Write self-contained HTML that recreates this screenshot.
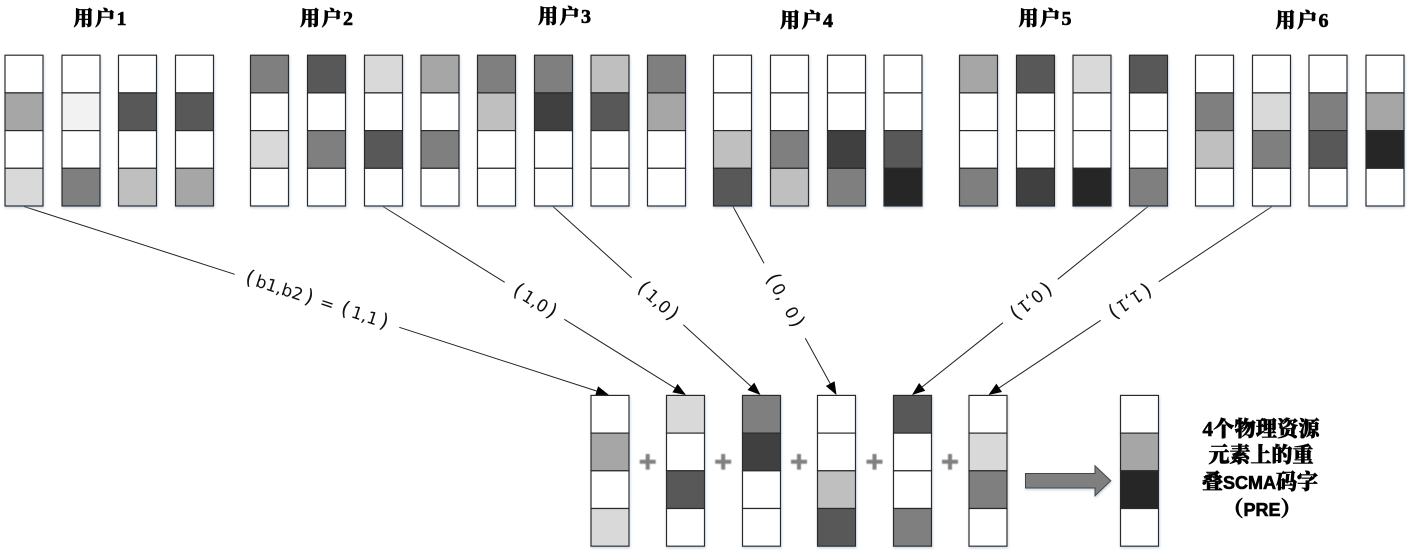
<!DOCTYPE html>
<html lang="zh">
<head>
<meta charset="utf-8">
<title>SCMA</title>
<style>
html,body{margin:0;padding:0;background:#fff;width:1409px;height:555px;overflow:hidden}
svg{display:block}
.c rect{width:38px;height:37.7px;stroke:#2b2b2b;stroke-width:1.2px}
.t{font-family:"Liberation Serif","Noto Serif CJK SC",serif;font-weight:900;font-size:20px;fill:#000;stroke:#000;stroke-width:.6px;text-anchor:middle}
.r{font-size:21px}
.e{font-family:"Liberation Sans",sans-serif;font-size:18px}
.l{font-family:"DejaVu Sans",sans-serif;font-size:17px;fill:#111;text-anchor:middle}
.q{font-size:20px}
.k line{stroke:#222;stroke-width:1}
.p path{fill:#000}
</style>
</head>
<body>
<svg width="1409" height="555" viewBox="0 0 1409 555" xmlns="http://www.w3.org/2000/svg">
<defs>
<filter id="s" x="-20%" y="-20%" width="140%" height="140%"><feDropShadow dx="0.6" dy="1.5" stdDeviation="1.2" flood-color="#9fb8d8" flood-opacity=".55"/></filter>
<filter id="b" x="-30%" y="-30%" width="160%" height="160%"><feGaussianBlur stdDeviation=".5"/></filter>
</defs>

<text class="t" x="100" y="25" textLength="53">用户1</text>
<text class="t" x="326.5" y="25" textLength="53">用户2</text>
<text class="t" x="564.5" y="23" textLength="53">用户3</text>
<text class="t" x="806.5" y="27" textLength="53">用户4</text>
<text class="t" x="1045" y="25" textLength="53">用户5</text>
<text class="t" x="1302" y="27" textLength="53">用户6</text>

<g class="k">
<line x1="24" y1="206.5" x2="234.7" y2="274.3"/><line x1="399.3" y1="327.3" x2="596.6" y2="391"/>
<line x1="383" y1="206.5" x2="504.7" y2="282.3"/><line x1="564.3" y1="319.3" x2="675" y2="388.1"/>
<line x1="553" y1="206.5" x2="631.7" y2="277.7"/><line x1="683.3" y1="324.7" x2="750.9" y2="386.3"/>
<line x1="733" y1="206.5" x2="764" y2="263.3"/><line x1="805.3" y1="338.3" x2="830.2" y2="383.6"/>
<line x1="1148" y1="206.5" x2="1057.7" y2="279.3"/><line x1="1003" y1="322.7" x2="922.2" y2="386.9"/>
<line x1="1272" y1="206.5" x2="1158.7" y2="281.7"/><line x1="1100.7" y1="320.3" x2="999.2" y2="387.8"/>
</g>
<g class="p">
<path d="M609,395 L595.1,395.8 L598.1,386.2 Z"/>
<path d="M686,395 L672.4,392.4 L677.6,383.9 Z"/>
<path d="M760.5,395 L747.5,390 L754.3,382.6 Z"/>
<path d="M836.5,395 L825.8,386 L834.6,381.2 Z"/>
<path d="M912,395 L925.3,390.8 L919.1,383 Z"/>
<path d="M988.4,395 L1002,392 L996.4,383.6 Z"/>
</g>

<g class="c">
<g filter="url(#s)" transform="translate(5,55.2)"><rect y="0" fill="#fff"/><rect y="37.7" fill="#a6a6a6"/><rect y="75.4" fill="#fff"/><rect y="113.1" fill="#d9d9d9"/></g>
<g filter="url(#s)" transform="translate(62,55.2)"><rect y="0" fill="#fff"/><rect y="37.7" fill="#f2f2f2"/><rect y="75.4" fill="#fff"/><rect y="113.1" fill="#7f7f7f"/></g>
<g filter="url(#s)" transform="translate(118.5,55.2)"><rect y="0" fill="#fff"/><rect y="37.7" fill="#595959"/><rect y="75.4" fill="#fff"/><rect y="113.1" fill="#bfbfbf"/></g>
<g filter="url(#s)" transform="translate(175.5,55.2)"><rect y="0" fill="#fff"/><rect y="37.7" fill="#595959"/><rect y="75.4" fill="#fff"/><rect y="113.1" fill="#a6a6a6"/></g>

<g filter="url(#s)" transform="translate(250.5,55.2)"><rect y="0" fill="#7f7f7f"/><rect y="37.7" fill="#fff"/><rect y="75.4" fill="#d9d9d9"/><rect y="113.1" fill="#fff"/></g>
<g filter="url(#s)" transform="translate(307.5,55.2)"><rect y="0" fill="#595959"/><rect y="37.7" fill="#fff"/><rect y="75.4" fill="#7f7f7f"/><rect y="113.1" fill="#fff"/></g>
<g filter="url(#s)" transform="translate(364.5,55.2)"><rect y="0" fill="#d9d9d9"/><rect y="37.7" fill="#fff"/><rect y="75.4" fill="#595959"/><rect y="113.1" fill="#fff"/></g>
<g filter="url(#s)" transform="translate(421,55.2)"><rect y="0" fill="#a6a6a6"/><rect y="37.7" fill="#fff"/><rect y="75.4" fill="#7f7f7f"/><rect y="113.1" fill="#fff"/></g>

<g filter="url(#s)" transform="translate(477.5,55.2)"><rect y="0" fill="#7f7f7f"/><rect y="37.7" fill="#bfbfbf"/><rect y="75.4" fill="#fff"/><rect y="113.1" fill="#fff"/></g>
<g filter="url(#s)" transform="translate(534.5,55.2)"><rect y="0" fill="#7f7f7f"/><rect y="37.7" fill="#404040"/><rect y="75.4" fill="#fff"/><rect y="113.1" fill="#fff"/></g>
<g filter="url(#s)" transform="translate(591,55.2)"><rect y="0" fill="#bfbfbf"/><rect y="37.7" fill="#595959"/><rect y="75.4" fill="#fff"/><rect y="113.1" fill="#fff"/></g>
<g filter="url(#s)" transform="translate(647.5,55.2)"><rect y="0" fill="#7f7f7f"/><rect y="37.7" fill="#a6a6a6"/><rect y="75.4" fill="#fff"/><rect y="113.1" fill="#fff"/></g>

<g filter="url(#s)" transform="translate(713.5,55.2)"><rect y="0" fill="#fff"/><rect y="37.7" fill="#fff"/><rect y="75.4" fill="#bfbfbf"/><rect y="113.1" fill="#595959"/></g>
<g filter="url(#s)" transform="translate(770.5,55.2)"><rect y="0" fill="#fff"/><rect y="37.7" fill="#fff"/><rect y="75.4" fill="#7f7f7f"/><rect y="113.1" fill="#bfbfbf"/></g>
<g filter="url(#s)" transform="translate(827.5,55.2)"><rect y="0" fill="#fff"/><rect y="37.7" fill="#fff"/><rect y="75.4" fill="#404040"/><rect y="113.1" fill="#7f7f7f"/></g>
<g filter="url(#s)" transform="translate(884,55.2)"><rect y="0" fill="#fff"/><rect y="37.7" fill="#fff"/><rect y="75.4" fill="#595959"/><rect y="113.1" fill="#262626"/></g>

<g filter="url(#s)" transform="translate(959.5,55.2)"><rect y="0" fill="#a6a6a6"/><rect y="37.7" fill="#fff"/><rect y="75.4" fill="#fff"/><rect y="113.1" fill="#7f7f7f"/></g>
<g filter="url(#s)" transform="translate(1016.5,55.2)"><rect y="0" fill="#595959"/><rect y="37.7" fill="#fff"/><rect y="75.4" fill="#fff"/><rect y="113.1" fill="#404040"/></g>
<g filter="url(#s)" transform="translate(1073,55.2)"><rect y="0" fill="#d9d9d9"/><rect y="37.7" fill="#fff"/><rect y="75.4" fill="#fff"/><rect y="113.1" fill="#262626"/></g>
<g filter="url(#s)" transform="translate(1129.5,55.2)"><rect y="0" fill="#595959"/><rect y="37.7" fill="#fff"/><rect y="75.4" fill="#fff"/><rect y="113.1" fill="#7f7f7f"/></g>

<g filter="url(#s)" transform="translate(1195.5,55.2)"><rect y="0" fill="#fff"/><rect y="37.7" fill="#7f7f7f"/><rect y="75.4" fill="#bfbfbf"/><rect y="113.1" fill="#fff"/></g>
<g filter="url(#s)" transform="translate(1252.5,55.2)"><rect y="0" fill="#fff"/><rect y="37.7" fill="#d9d9d9"/><rect y="75.4" fill="#7f7f7f"/><rect y="113.1" fill="#fff"/></g>
<g filter="url(#s)" transform="translate(1309,55.2)"><rect y="0" fill="#fff"/><rect y="37.7" fill="#7f7f7f"/><rect y="75.4" fill="#595959"/><rect y="113.1" fill="#fff"/></g>
<g filter="url(#s)" transform="translate(1366,55.2)"><rect y="0" fill="#fff"/><rect y="37.7" fill="#a6a6a6"/><rect y="75.4" fill="#262626"/><rect y="113.1" fill="#fff"/></g>

<g filter="url(#s)" transform="translate(591,395.4)"><rect y="0" fill="#fff"/><rect y="37.7" fill="#a6a6a6"/><rect y="75.4" fill="#fff"/><rect y="113.1" fill="#d9d9d9"/></g>
<g filter="url(#s)" transform="translate(666.5,395.4)"><rect y="0" fill="#d9d9d9"/><rect y="37.7" fill="#fff"/><rect y="75.4" fill="#595959"/><rect y="113.1" fill="#fff"/></g>
<g filter="url(#s)" transform="translate(742.5,395.4)"><rect y="0" fill="#7f7f7f"/><rect y="37.7" fill="#404040"/><rect y="75.4" fill="#fff"/><rect y="113.1" fill="#fff"/></g>
<g filter="url(#s)" transform="translate(817.5,395.4)"><rect y="0" fill="#fff"/><rect y="37.7" fill="#fff"/><rect y="75.4" fill="#bfbfbf"/><rect y="113.1" fill="#595959"/></g>
<g filter="url(#s)" transform="translate(893.5,395.4)"><rect y="0" fill="#595959"/><rect y="37.7" fill="#fff"/><rect y="75.4" fill="#fff"/><rect y="113.1" fill="#7f7f7f"/></g>
<g filter="url(#s)" transform="translate(969,395.4)"><rect y="0" fill="#fff"/><rect y="37.7" fill="#d9d9d9"/><rect y="75.4" fill="#7f7f7f"/><rect y="113.1" fill="#fff"/></g>

<g filter="url(#s)" transform="translate(1120.5,395.4)"><rect y="0" fill="#fff"/><rect y="37.7" fill="#a6a6a6"/><rect y="75.4" fill="#262626"/><rect y="113.1" fill="#fff"/></g>
</g>

<text class="l" transform="translate(317,300) rotate(18)" y="6"><tspan class="q">(</tspan><tspan dx="3">b1,b2</tspan><tspan class="q" dx="3">)</tspan><tspan dx="8">=</tspan><tspan class="q" dx="8">(</tspan><tspan dx="3">1,1</tspan><tspan class="q" dx="3">)</tspan></text>
<text class="l" transform="translate(535,301) rotate(32)" y="6"><tspan class="q">(</tspan><tspan dx="3">1,0</tspan><tspan class="q" dx="2">)</tspan></text>
<text class="l" transform="translate(658,301) rotate(42)" y="6"><tspan class="q">(</tspan><tspan dx="3">1,0</tspan><tspan class="q" dx="2">)</tspan></text>
<text class="l" transform="translate(785,300.5) rotate(61)" y="6"><tspan class="q">(</tspan><tspan dx="3">0,</tspan><tspan dx="5"> 0</tspan><tspan class="q" dx="2">)</tspan></text>
<text class="l" transform="translate(1031,301) rotate(141.5)" y="6"><tspan class="q">(</tspan><tspan dx="3">0,1</tspan><tspan class="q" dx="2">)</tspan></text>
<text class="l" transform="translate(1130,301) rotate(146.5)" y="6"><tspan class="q">(</tspan><tspan dx="3">1,1</tspan><tspan class="q" dx="2">)</tspan></text>

<g filter="url(#b)" fill="#808080">
<path d="M645.7,454h4v5.8h6v4h-6v5.8h-4v-5.8h-6v-4h6z"/>
<path d="M721.2,454h4v5.8h6v4h-6v5.8h-4v-5.8h-6v-4h6z"/>
<path d="M797,454h4v5.8h6v4h-6v5.8h-4v-5.8h-6v-4h6z"/>
<path d="M872.5,454h4v5.8h6v4h-6v5.8h-4v-5.8h-6v-4h6z"/>
<path d="M948,454h4v5.8h6v4h-6v5.8h-4v-5.8h-6v-4h6z"/>
</g>

<path filter="url(#s)" d="M1025.5,473.5H1095V465.8L1110.8,480.7L1095,495.8V488H1025.5Z" fill="#7f7f7f" stroke="#444" stroke-width="1"/>

<text class="t r" x="1261" y="436" textLength="117">4个物理资源</text>
<text class="t r" x="1261" y="462">元素上的重</text>
<text class="t r" x="1260" y="489">叠<tspan class="e">SCMA</tspan>码字</text>
<text class="t r" x="1262" y="516">（<tspan class="e">PRE</tspan>）</text>
</svg>
</body>
</html>
